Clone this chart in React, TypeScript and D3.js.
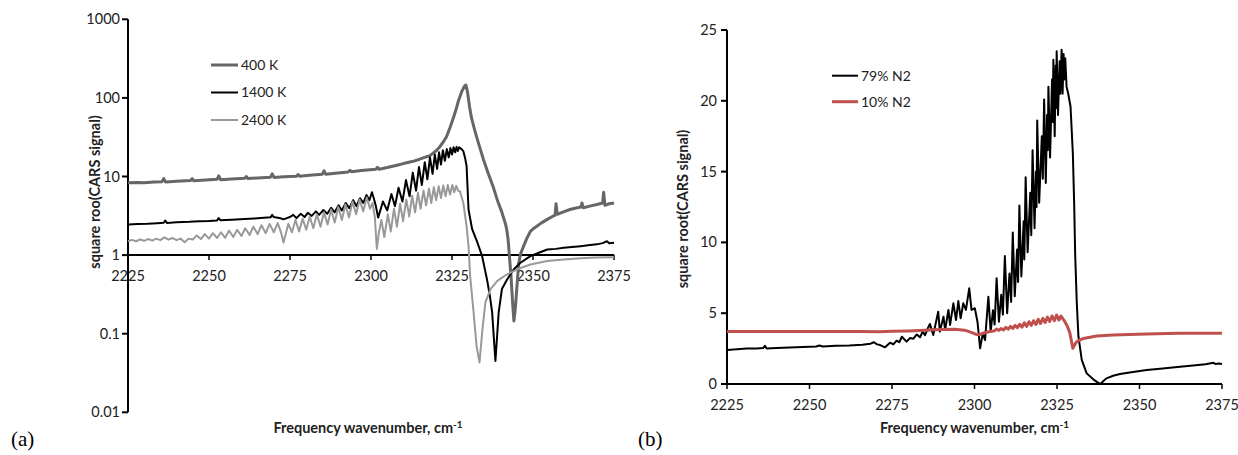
import React from "react";
import * as d3 from "d3";

// ---------- axis ticks ----------
const waveTicks = [2225, 2250, 2275, 2300, 2325, 2350, 2375];
const logTicks = [0.01, 0.1, 1, 10, 100, 1000];
const logTickLabels = ["0.01", "0.1", "1", "10", "100", "1000"];
const linTicks = [0, 5, 10, 15, 20, 25];

// ---------- panel (a): temperature series [wavenumber, sqrt(CARS)] ----------
const k400: [number, number][] = [
  [2225, 8.3], [2228, 8.4], [2230, 8.3], [2233, 8.5], [2235.5, 8.6], [2236, 9.4], [2236.6, 8.5],
  [2240, 8.7], [2244.3, 8.9], [2244.8, 9.4], [2245.3, 8.8], [2249, 9.0], [2252.5, 9.2], [2253, 10.2],
  [2253.6, 9.1], [2257, 9.3], [2261, 9.5], [2261.5, 10.0], [2262, 9.4], [2265, 9.6], [2269, 9.8],
  [2269.5, 10.8], [2270.1, 9.7], [2273, 9.9], [2277, 10.1], [2277.5, 10.6], [2278, 10.1], [2281, 10.4],
  [2285, 10.7], [2285.5, 11.8], [2286, 10.7], [2289, 11.0], [2293, 11.4], [2293.5, 12.0], [2294, 11.5],
  [2297, 11.9], [2301.5, 12.4], [2302, 13.1], [2302.5, 12.4], [2305, 13.0], [2308, 13.9], [2310, 14.6],
  [2313, 15.6], [2315, 16.6], [2317, 17.8], [2318.2, 18.4], [2319.2, 19.8], [2320.2, 21.4], [2321.3, 24.0],
  [2322.3, 27.5], [2323.3, 32], [2324.4, 42], [2325.3, 54], [2326.2, 70], [2327, 92], [2328, 120],
  [2328.8, 140], [2329.3, 146], [2329.8, 118], [2330.4, 78], [2331, 56], [2331.8, 42], [2332.6, 32],
  [2333.5, 24], [2334.7, 16.5], [2336, 11.5], [2337.7, 7.4], [2339, 5.0], [2340.3, 3.6], [2341, 2.9],
  [2341.5, 2.5], [2341.9, 2.1], [2342.3, 1.6], [2342.7, 1.0], [2343.2, 0.55], [2343.7, 0.25],
  [2344.1, 0.145], [2344.5, 0.2], [2344.9, 0.33], [2345.3, 0.55], [2345.6, 0.8], [2346.2, 1.05],
  [2347.1, 1.3], [2348, 1.6], [2349.2, 2.0], [2350.3, 2.2], [2351.3, 2.35], [2352.5, 2.55],
  [2354.4, 2.85], [2356, 3.1], [2356.8, 3.2], [2357.1, 4.5], [2357.5, 3.3], [2359, 3.5], [2361.4, 3.8],
  [2363, 3.95], [2364.8, 4.1], [2365.1, 4.6], [2365.5, 4.0], [2367.5, 4.2], [2369.7, 4.4], [2371.5, 4.6],
  [2371.8, 6.3], [2372.2, 4.3], [2373.5, 4.5], [2375, 4.6],
];

const k1400: [number, number][] = [
  [2225, 2.45], [2228, 2.48], [2231, 2.5], [2234, 2.55], [2236, 2.58], [2236.5, 2.75], [2237, 2.57],
  [2240, 2.62], [2244, 2.65], [2247, 2.7], [2250, 2.72], [2252.5, 2.76], [2253, 2.95], [2253.5, 2.78],
  [2257, 2.82], [2261, 2.88], [2264, 2.93], [2267, 2.98], [2269, 3.02], [2269.5, 3.25], [2270, 3.05],
  [2272, 2.95], [2273, 2.85], [2274, 2.95], [2275, 3.05], [2276, 3.25], [2277, 2.95], [2278.3, 3.35],
  [2279.5, 3.05], [2280.5, 3.45], [2281.7, 3.15], [2283, 3.6], [2284, 3.25], [2285.3, 3.75],
  [2286.5, 3.35], [2287.7, 4.0], [2288.8, 3.5], [2290, 4.3], [2291, 3.7], [2292.2, 4.6], [2293.3, 3.95],
  [2294.5, 5.0], [2295.5, 4.2], [2296.6, 5.3], [2297.6, 4.6], [2298.6, 5.8], [2299.5, 5.0],
  [2300.3, 6.3], [2300.9, 5.2], [2301.5, 4.2], [2302.2, 3.0], [2303.7, 4.8], [2305.0, 3.7],
  [2306.3, 6.0], [2307.4, 4.2], [2308.5, 7.2], [2309.7, 4.8], [2310.8, 9.0], [2311.9, 5.6],
  [2312.9, 11.2], [2313.9, 6.6], [2314.8, 13.2], [2315.7, 7.8], [2316.6, 15.2], [2317.4, 9.2],
  [2318.2, 17.5], [2319.0, 10.8], [2319.7, 19.0], [2320.4, 12.5], [2321.0, 20.3], [2321.6, 14.2],
  [2322.2, 21.5], [2322.8, 15.8], [2323.4, 22.3], [2324.0, 17.5], [2324.5, 23.0], [2325.0, 19.0],
  [2325.5, 23.5], [2326.0, 20.3], [2326.4, 23.8], [2326.8, 21.2], [2327.2, 23.5], [2327.8, 22.5],
  [2328.5, 21], [2329, 17.5], [2329.5, 13.6], [2330.1, 3.8], [2331.2, 2.15], [2332.7, 1.5],
  [2334.3, 0.97], [2335.8, 0.49], [2336.7, 0.3], [2337.4, 0.185], [2337.9, 0.09], [2338.4, 0.045],
  [2338.9, 0.09], [2339.4, 0.185], [2340.4, 0.37], [2342, 0.49], [2344.1, 0.66], [2346.1, 0.8],
  [2349.2, 0.97], [2352, 1.08], [2354.4, 1.18], [2357, 1.2], [2359.5, 1.24], [2362, 1.27],
  [2364.7, 1.3], [2367, 1.33], [2369.7, 1.37], [2371.5, 1.42], [2372.8, 1.5], [2373.5, 1.42],
  [2375, 1.44],
];

const k2400: [number, number][] = [
  [2225, 1.5], [2226.2, 1.56], [2227.5, 1.5], [2228.7, 1.58], [2230, 1.52], [2231.2, 1.6],
  [2232.5, 1.53], [2233.7, 1.62], [2235, 1.55], [2236.2, 1.68], [2237.5, 1.57], [2238.7, 1.65],
  [2240, 1.55], [2241.2, 1.62], [2242.5, 1.46], [2243.7, 1.62], [2245, 1.58], [2246.2, 1.78],
  [2247.5, 1.6], [2248.7, 1.85], [2250, 1.62], [2251.2, 1.9], [2252.5, 1.65], [2253.7, 1.95],
  [2255, 1.66], [2256.2, 2.05], [2257.5, 1.7], [2258.7, 2.1], [2260, 1.75], [2261.2, 2.2],
  [2262.5, 1.8], [2263.7, 2.3], [2265, 1.85], [2266.2, 2.4], [2267.5, 1.9], [2268.7, 2.5],
  [2270, 1.95], [2271.2, 2.55], [2272.3, 1.9], [2273, 1.45], [2273.6, 1.8], [2274.5, 2.5],
  [2275.6, 1.95], [2276.7, 2.8], [2277.8, 2.0], [2278.9, 2.9], [2280, 2.1], [2281.1, 3.1],
  [2282.2, 2.2], [2283.3, 3.3], [2284.4, 2.3], [2285.5, 3.5], [2286.6, 2.45], [2287.7, 3.8],
  [2288.8, 2.6], [2289.9, 4.1], [2291, 2.8], [2292.1, 4.4], [2293.2, 3.0], [2294.3, 4.8],
  [2295.4, 3.3], [2296.5, 5.1], [2297.6, 3.6], [2298.7, 5.4], [2299.7, 3.9], [2300.5, 4.6],
  [2301.2, 3.0], [2301.8, 1.2], [2302.4, 1.9], [2303.2, 2.8], [2304.1, 1.7], [2305.2, 3.3],
  [2306.1, 2.0], [2307.1, 3.9], [2308, 2.3], [2309, 4.5], [2309.9, 2.7], [2310.9, 5.1],
  [2311.8, 3.1], [2312.7, 5.7], [2313.6, 3.5], [2314.5, 6.2], [2315.3, 3.9], [2316.2, 6.6],
  [2317, 4.3], [2317.9, 7.0], [2318.6, 4.6], [2319.4, 7.3], [2320.1, 5.0], [2320.9, 7.5],
  [2321.6, 5.3], [2322.3, 7.7], [2323, 5.6], [2323.7, 7.8], [2324.4, 5.9], [2325.1, 7.8],
  [2325.7, 6.3], [2326.3, 7.6], [2326.9, 6.6], [2327.5, 6.4], [2328.5, 4.6], [2329.5, 2.34],
  [2330.1, 1.3], [2330.6, 0.54], [2331.6, 0.2], [2332.6, 0.069], [2333.5, 0.043], [2334.3, 0.103],
  [2335.3, 0.25], [2336.9, 0.37], [2339, 0.47], [2342, 0.57], [2345.1, 0.66], [2349.2, 0.76],
  [2354.4, 0.84], [2359.5, 0.88], [2364.7, 0.91], [2369.7, 0.93], [2375, 0.94],
];

// ---------- panel (b): N2 concentration series ----------
const n2_79: [number, number][] = [
  [2225, 2.4], [2228, 2.45], [2231, 2.5], [2234, 2.5], [2236, 2.55], [2236.5, 2.7], [2237, 2.5],
  [2240, 2.55], [2244, 2.58], [2248, 2.62], [2252, 2.65], [2253, 2.72], [2254, 2.65], [2258, 2.7],
  [2262, 2.72], [2266, 2.78], [2268.5, 2.85], [2269.5, 2.95], [2270.5, 2.8], [2271.4, 2.75],
  [2272.9, 2.59], [2274.4, 2.92], [2275.4, 2.8], [2276.4, 3.06], [2277.2, 2.95], [2278, 3.34],
  [2279.4, 2.99], [2280.5, 3.25], [2281.5, 3.2], [2282.5, 3.5], [2283.5, 3.3], [2284.3, 3.7],
  [2285.0, 3.45], [2285.8, 3.9], [2286.5, 4.24], [2287.5, 3.46], [2289.0, 5.11], [2289.5, 3.7],
  [2290.6, 4.75], [2291.1, 3.81], [2292.1, 5.23], [2292.6, 4.17], [2293.6, 5.7], [2294.4, 4.52],
  [2295.1, 5.86], [2295.8, 4.64], [2296.6, 5.7], [2297.4, 5.23], [2298.4, 6.76], [2299.1, 5.23],
  [2300.1, 5.35], [2300.9, 4.4], [2301.7, 2.52], [2302.5, 3.58], [2303.2, 3.1], [2304.2, 6.17],
  [2304.9, 3.7], [2305.6, 5.2], [2306.1, 4.2], [2306.7, 7.46], [2307.4, 4.4], [2308.1, 6.3],
  [2308.6, 4.9], [2309.2, 9.04], [2309.9, 5.0], [2310.6, 7.8], [2311.1, 5.8], [2311.6, 10.7],
  [2312.2, 6.2], [2312.9, 9.5], [2313.2, 7.2], [2313.6, 12.6], [2314.2, 7.6], [2314.9, 11.5],
  [2315.1, 8.8], [2315.5, 14.6], [2316.1, 9.3], [2316.9, 13.5], [2317.2, 10.5], [2317.6, 16.5],
  [2318.2, 11.0], [2318.6, 15.0], [2318.8, 12.5], [2319.0, 18.6], [2319.6, 12.8], [2320.4, 17.5],
  [2320.7, 14.5], [2321.1, 20.1], [2321.6, 14.2], [2322.0, 19.0], [2322.2, 16.5], [2322.4, 21.0],
  [2322.9, 16.0], [2323.5, 21.5], [2323.7, 18.5], [2323.9, 22.9], [2324.3, 17.5], [2324.6, 22.5],
  [2324.75, 19.5], [2324.9, 23.5], [2325.3, 19.0], [2325.8, 22.8], [2326.0, 20.5], [2326.4, 23.6],
  [2326.7, 20.5], [2327.0, 23.3], [2327.2, 21.5], [2327.5, 23.0], [2327.9, 21.0], [2328.4, 20.5],
  [2329.1, 19.6], [2329.8, 16.3], [2330.2, 12.8], [2330.5, 9.2], [2331.0, 5.7], [2331.5, 3.34],
  [2332.5, 1.7], [2334.0, 0.75], [2336.0, 0.33], [2337.5, 0.08], [2338.3, 0.02], [2339, 0.2],
  [2340.0, 0.4], [2342, 0.58], [2344.1, 0.7], [2348, 0.85], [2352.2, 0.99], [2357, 1.1],
  [2362.3, 1.22], [2367, 1.33], [2370, 1.4], [2372.4, 1.5], [2373, 1.42], [2374, 1.45], [2375, 1.41],
];

const n2_10: [number, number][] = [
  [2225, 3.7], [2235, 3.7], [2245, 3.7], [2255, 3.7], [2265, 3.7], [2271, 3.69], [2275, 3.72],
  [2280, 3.75], [2285, 3.8], [2290, 3.85], [2294, 3.86], [2297, 3.8], [2299, 3.65], [2300.5, 3.5],
  [2301.7, 3.5], [2303, 3.62], [2305, 3.72], [2306, 3.75], [2306.7, 3.88], [2307.4, 3.78],
  [2308.1, 3.92], [2308.8, 3.82], [2309.5, 4.0], [2310.2, 3.87], [2310.9, 4.07], [2311.6, 3.92],
  [2312.3, 4.14], [2313, 3.97], [2313.7, 4.22], [2314.4, 4.02], [2315.1, 4.32], [2315.8, 4.07],
  [2316.5, 4.4], [2317.2, 4.14], [2317.9, 4.47], [2318.6, 4.2], [2319.3, 4.57], [2320, 4.27],
  [2320.7, 4.64], [2321.4, 4.34], [2322.1, 4.72], [2322.8, 4.42], [2323.5, 4.8], [2324.2, 4.47],
  [2324.9, 4.87], [2325.6, 4.52], [2326.2, 4.8], [2326.8, 4.6], [2327.4, 4.4], [2328.2, 4.05],
  [2328.9, 3.6], [2329.4, 3.0], [2329.8, 2.52], [2330.3, 2.75], [2331, 3.0], [2333, 3.22],
  [2337, 3.39], [2342, 3.46], [2352, 3.53], [2362, 3.58], [2375, 3.58],
];

const seriesA = [
  { name: "400 K", data: k400, color: "#666666", width: 3 },
  { name: "1400 K", data: k1400, color: "#000000", width: 2 },
  { name: "2400 K", data: k2400, color: "#999999", width: 2 },
];
const seriesB = [
  { name: "79% N2", data: n2_79, color: "#000000", width: 2 },
  { name: "10% N2", data: n2_10, color: "#C0504D", width: 3 },
];

const FONT = "Lato, 'Open Sans', sans-serif";

export default function App() {
  // panel (a) scales
  const xA = d3.scaleLinear().domain([2225, 2375]).range([128, 614]);
  const yA = d3.scaleLog().domain([0.01, 1000]).range([412.3, 19.3]);
  // panel (b) scales
  const xB = d3.scaleLinear().domain([2225, 2375]).range([727, 1222]);
  const yB = d3.scaleLinear().domain([0, 25]).range([384, 30]);

  const lineA = d3.line<[number, number]>().x((d) => xA(d[0])).y((d) => yA(d[1]));
  const lineB = d3.line<[number, number]>().x((d) => xB(d[0])).y((d) => yB(Math.max(0, d[1])));

  const tickFs = 14.5;
  const titleFs = 14.5;
  const y1 = yA(1);

  return (
    <svg width={1238} height={455} style={{ position: "absolute", left: 0, top: 0, background: "#fff" }}
      fontFamily={FONT}>
      <rect x={0} y={0} width={1238} height={455} fill="#fff" />

      {/* ===== Panel (a) ===== */}
      <g>
        {/* y axis */}
        <line x1={xA(2225)} x2={xA(2225)} y1={yA(1000)} y2={yA(0.01)} stroke="#000" strokeWidth={2} />
        {logTicks.map((t, i) => (
          <g key={"ya" + i}>
            <line x1={xA(2225) - 6} x2={xA(2225)} y1={yA(t)} y2={yA(t)} stroke="#000" strokeWidth={2} />
            <text x={xA(2225) - 8} y={yA(t)} dy="0.35em" textAnchor="end" fontSize={tickFs} fill="#222">
              {logTickLabels[i]}
            </text>
          </g>
        ))}
        {/* x axis at y = 1 */}
        <line x1={xA(2225)} x2={xA(2375)} y1={y1} y2={y1} stroke="#000" strokeWidth={2} />
        {waveTicks.map((t) => (
          <g key={"xa" + t}>
            <line x1={xA(t)} x2={xA(t)} y1={y1} y2={y1 + 5} stroke="#000" strokeWidth={1.5} />
            <text x={xA(t)} y={y1 + 21} dy="0.35em" textAnchor="middle" fontSize={tickFs} fill="#222">
              {t}
            </text>
          </g>
        ))}
        {seriesA.map((s) => (
          <path key={s.name} d={lineA(s.data) || ""} fill="none" stroke={s.color} strokeWidth={s.width}
            strokeLinejoin="round" />
        ))}
        {/* legend */}
        {seriesA.map((s, i) => (
          <g key={"la" + i}>
            <line x1={211} x2={238} y1={65 + i * 27.5} y2={65 + i * 27.5} stroke={s.color} strokeWidth={s.width} />
            <text x={241} y={65 + i * 27.5} dy="0.35em" fontSize={14} fill="#222">{s.name}</text>
          </g>
        ))}
        {/* axis titles */}
        <text x={368} y={428} dy="0.35em" textAnchor="middle" fontSize={titleFs} fontWeight="bold" fill="#222">
          Frequency wavenumber, cm<tspan dy="-5" fontSize={10}>-1</tspan>
        </text>
        <text transform={`translate(95,192) rotate(-90)`} dy="0.35em" textAnchor="middle" fontSize={14.5}
          fontWeight="bold" fill="#222">
          square roo(CARS signal)
        </text>
        <text x={11} y={446} fontFamily="'Liberation Serif', 'DejaVu Serif', serif" fontSize={21} fill="#000">(a)</text>
      </g>

      {/* ===== Panel (b) ===== */}
      <g>
        <line x1={xB(2225)} x2={xB(2225)} y1={yB(25)} y2={yB(0)} stroke="#000" strokeWidth={2} />
        {linTicks.map((t) => (
          <g key={"yb" + t}>
            <line x1={xB(2225) - 6} x2={xB(2225)} y1={yB(t)} y2={yB(t)} stroke="#000" strokeWidth={2} />
            <text x={xB(2225) - 10} y={yB(t)} dy="0.35em" textAnchor="end" fontSize={tickFs} fill="#222">{t}</text>
          </g>
        ))}
        <line x1={xB(2225)} x2={xB(2375)} y1={yB(0)} y2={yB(0)} stroke="#000" strokeWidth={2} />
        {waveTicks.map((t) => (
          <g key={"xb" + t}>
            <line x1={xB(t)} x2={xB(t)} y1={yB(0)} y2={yB(0) + 5} stroke="#000" strokeWidth={1.5} />
            <text x={xB(t)} y={yB(0) + 21} dy="0.35em" textAnchor="middle" fontSize={tickFs} fill="#222">{t}</text>
          </g>
        ))}
        {seriesB.map((s) => (
          <path key={s.name} d={lineB(s.data) || ""} fill="none" stroke={s.color} strokeWidth={s.width}
            strokeLinejoin="round" />
        ))}
        {seriesB.map((s, i) => (
          <g key={"lb" + i}>
            <line x1={832} x2={858} y1={75.7 + i * 26} y2={75.7 + i * 26} stroke={s.color} strokeWidth={s.width} />
            <text x={861} y={75.7 + i * 26} dy="0.35em" fontSize={14} fill="#222">{s.name}</text>
          </g>
        ))}
        <text x={974.5} y={428} dy="0.35em" textAnchor="middle" fontSize={titleFs} fontWeight="bold" fill="#222">
          Frequency wavenumber, cm<tspan dy="-5" fontSize={10}>-1</tspan>
        </text>
        <text transform={`translate(683,209) rotate(-90)`} dy="0.35em" textAnchor="middle" fontSize={14.5}
          fontWeight="bold" fill="#222">
          square root(CARS signal)
        </text>
        <text x={638} y={446} fontFamily="'Liberation Serif', 'DejaVu Serif', serif" fontSize={21} fill="#000">(b)</text>
      </g>
    </svg>
  );
}
